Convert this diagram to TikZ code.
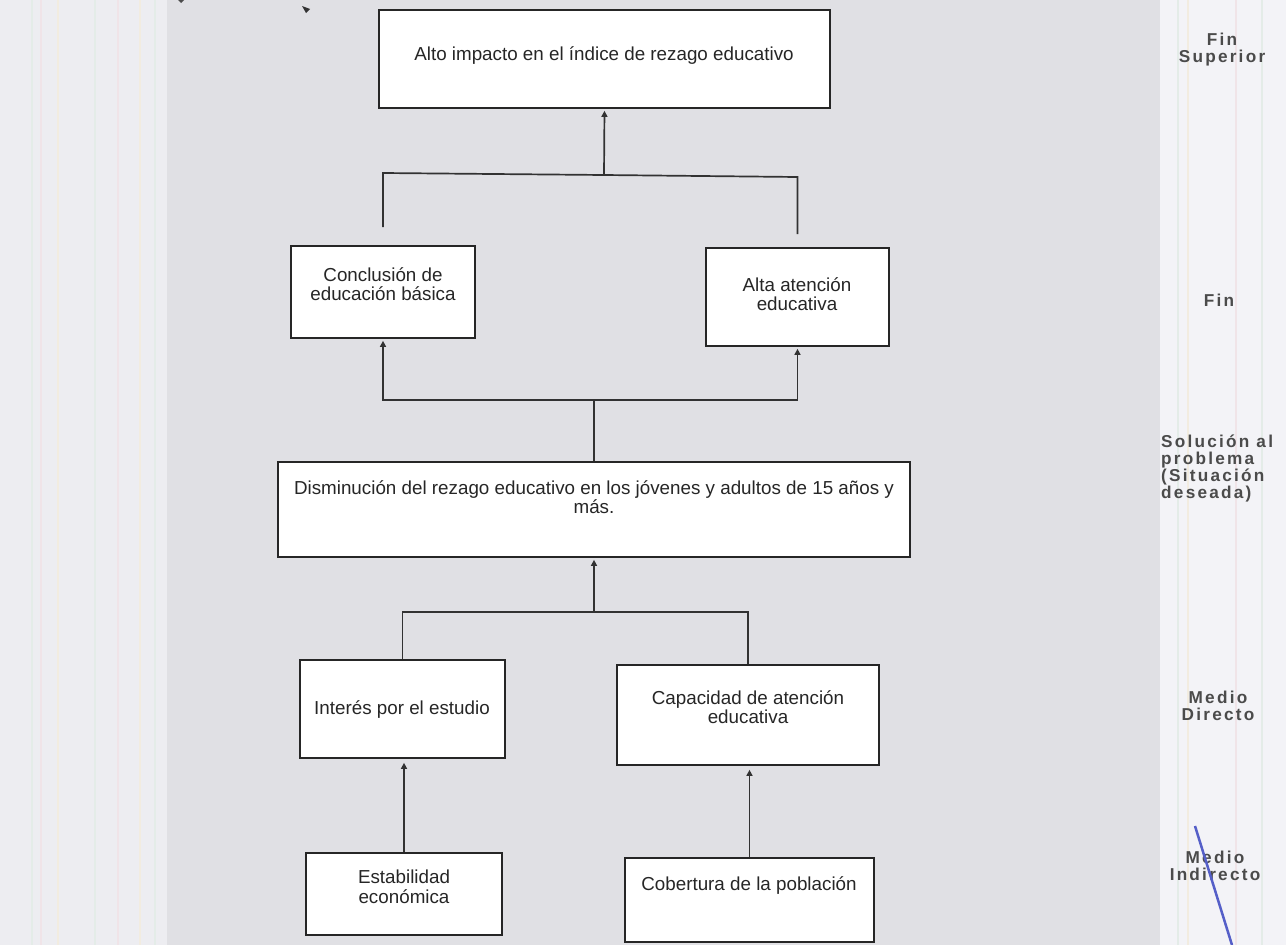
\documentclass[tikz,border=0pt]{standalone}
\usepackage{fontspec}
\setmainfont{Liberation Sans}
\newfontfamily\lblfont[LetterSpace=13]{Liberation Sans}
\usetikzlibrary{arrows.meta}
\definecolor{pagebg}{RGB}{237,237,241}
\definecolor{scanbg}{RGB}{224,224,228}
\definecolor{rightbg}{RGB}{243,243,247}
\definecolor{linec}{RGB}{50,50,50}
\definecolor{lblc}{RGB}{75,75,75}
\definecolor{pen}{RGB}{85,95,200}
\definecolor{stripeA}{RGB}{228,236,232}
\definecolor{stripeB}{RGB}{240,228,232}
\definecolor{stripeC}{RGB}{242,236,224}
\tikzset{
  box/.style={draw=black!85, line width=1.7pt, fill=white, inner sep=0pt},
  txt/.style={font=\fontsize{18.8}{19.5}\selectfont, align=center, text=black!85, inner sep=0pt},
  conn/.style={draw=linec, line width=1.7pt},
  arr/.style={conn, -{Triangle[width=6pt,length=6pt]}, shorten >=2pt},
  lbl/.style={font=\lblfont\bfseries\fontsize{17.2}{17}\selectfont, text=lblc, align=center, inner sep=0pt},
  stripe/.style={line width=2pt},
}
\begin{document}
\begin{tikzpicture}[x=1pt,y=-1pt]
\useasboundingbox (0,0) rectangle (1286,945);
\fill[pagebg] (0,0) rectangle (1286,945);
\fill[scanbg] (167,0) rectangle (1160,945);
\fill[rightbg] (1160,0) rectangle (1286,945);
% faint scan stripes
\foreach \x/\c in {32/stripeA,41/stripeB,58/stripeC,95/stripeA,118/stripeB,140/stripeC,155/stripeA,1178/stripeA,1188/stripeC,1236/stripeB,1262/stripeA}
  \draw[stripe, \c] (\x,0) -- (\x,945);

% boxes
\node[box, minimum width=451pt, minimum height=98pt] (top) at (604.5,59) {};
\node[box, minimum width=184pt, minimum height=92pt] (concl) at (383,292) {};
\node[box, minimum width=183pt, minimum height=98pt] (alta) at (797.5,297) {};
\node[box, minimum width=632pt, minimum height=95pt] (dism) at (594,509.5) {};
\node[box, minimum width=205pt, minimum height=98pt] (inter) at (402.5,709) {};
\node[box, minimum width=262pt, minimum height=100pt] (capac) at (748,715) {};
\node[box, minimum width=196pt, minimum height=82pt] (estab) at (404,894) {};
\node[box, minimum width=249pt, minimum height=84pt] (cober) at (749.5,900) {};

% texts
\node[txt] (topT) at (604,56) {Alto impacto en el índice de rezago educativo};
\node[txt] (conclT) at (383,284) {Conclusión de\\educación básica};
\node[txt] (altaT) at (797,294) {Alta atención\\educativa};
\node[txt] (dismT) at (594,497) {Disminución del rezago educativo en los jóvenes y adultos de 15 años y\\más.};
\node[txt] (interT) at (402,710) {Interés por el estudio};
\node[txt] (capacT) at (748,707) {Capacidad de atención\\educativa};
\node[txt] (estabT) at (404,887) {Estabilidad\\económica};
\node[txt] (coberT) at (749,886) {Cobertura de la población};

% connectors
\coordinate (j1) at (604,175);
\coordinate (j1l) at (383,173);
\coordinate (j1r) at (797.5,177);
\coordinate (j2) at (594,400);
\coordinate (j3) at (594,612);
\draw[conn] ([yshift=18pt]concl.north) -- (j1l) -- (j1) -- (j1r) -- ([yshift=13pt]alta.north);
\draw[arr] (j1) -- (top.south);
\draw[conn] (dism.north) -- (j2);
\draw[arr] (j2) -- (concl.south |- j2) -- (concl.south);
\draw[arr] (j2) -- (alta.south |- j2) -- (alta.south);
\draw[arr] (j3) -- (dism.south);
\draw[conn] (inter.north) -- (inter.north |- j3) -- (capac.north |- j3) -- (capac.north);
\draw[arr, shorten >=4pt] (estab.north) -- (estab.north |- inter.south);
\draw[arr, shorten >=4pt] (cober.north) -- (cober.north |- capac.south);

% level labels
\node[lbl] (l1) at (1222,50) {Fin\\Superior};
\node[lbl] (l2) at (1219,300) {Fin};
\node[lbl, align=left, anchor=west] (l3) at (1161,468) {Solución al\\problema\\(Situación\\deseada)};
\node[lbl] (l4) at (1218,706) {Medio\\Directo};
\node[lbl] (l5) at (1215,866) {Medio\\Indirecto};

% pen stroke and scan marks
\draw[pen, line width=2.5pt] (1195,826) -- (1232,945);
\fill[black!80] (302,6) -- (310,9) -- (306,13) -- cycle;
\fill[black!70] (178,0) -- (184,0) -- (181,3) -- cycle;
\end{tikzpicture}
\end{document}
